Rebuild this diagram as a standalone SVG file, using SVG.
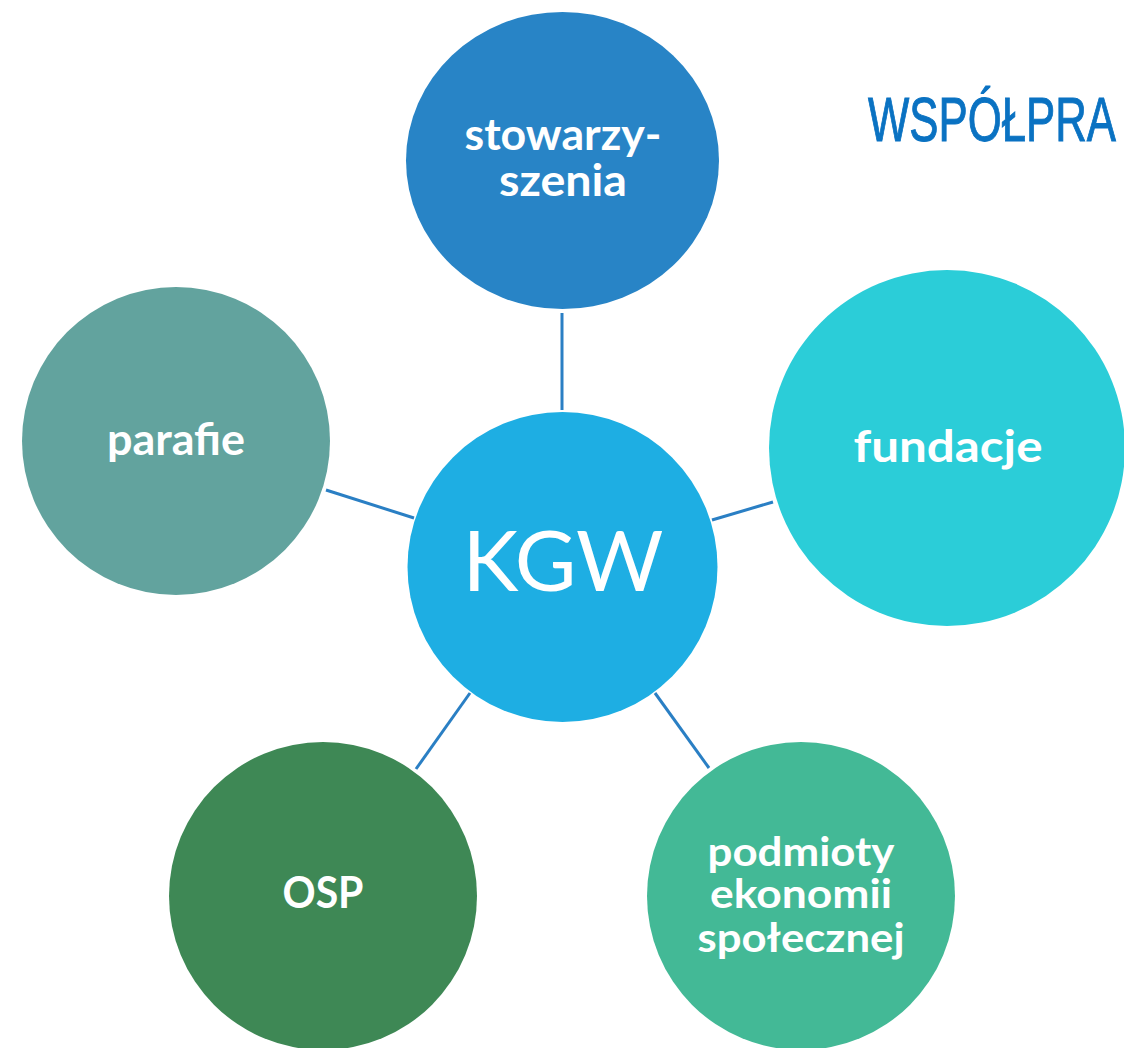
<svg xmlns="http://www.w3.org/2000/svg" width="1124" height="1048" viewBox="0 0 1124 1048">
<style>
.lbl{font-family:Lato,"Noto Sans","DejaVu Sans",sans-serif;font-weight:700;font-size:43px;fill:#ffffff;text-anchor:middle}
.sm{font-size:40px}
.kgw{font-family:Lato,"Noto Sans",sans-serif;font-weight:400;font-size:84px;fill:#ffffff;text-anchor:middle}
.title{font-family:"Liberation Sans",Arial,sans-serif;font-size:63px;fill:#0a72c2;stroke:#0a72c2;stroke-width:1}
.conn line{stroke:#2a7fc4;stroke-width:3}
</style>
<rect width="1124" height="1048" fill="#ffffff"/>
<text class="title" x="868" y="141" textLength="248" lengthAdjust="spacingAndGlyphs">WSPÓŁPRA</text>
<g id="connectors" class="conn">
<line x1="562" y1="313" x2="562" y2="410"/>
<line x1="326" y1="490" x2="414" y2="518"/>
<line x1="712" y1="520" x2="773" y2="502"/>
<line x1="416" y1="769" x2="470" y2="693"/>
<line x1="655" y1="693" x2="709" y2="768"/>
</g>
<g id="stowarzyszenia">
<ellipse cx="562.5" cy="160.5" rx="156.5" ry="148.5" fill="#2884c6"/>
<text class="lbl" x="563" y="150" textLength="197" lengthAdjust="spacingAndGlyphs">stowarzy-</text>
<text class="lbl" x="563" y="196" textLength="128" lengthAdjust="spacingAndGlyphs">szenia</text>
</g>
<g id="parafie">
<circle cx="176" cy="441" r="154" fill="#62a39e"/>
<text class="lbl" x="176" y="455" textLength="138" lengthAdjust="spacingAndGlyphs">parafie</text>
</g>
<g id="fundacje">
<circle cx="947" cy="448" r="178" fill="#2bcdd8"/>
<text class="lbl" x="948" y="462" textLength="189" lengthAdjust="spacingAndGlyphs">fundacje</text>
</g>
<g id="kgw">
<circle cx="562.5" cy="567" r="155" fill="#1eaee3"/>
<text class="kgw" x="563" y="591" textLength="201" lengthAdjust="spacingAndGlyphs">KGW</text>
</g>
<g id="osp">
<circle cx="323" cy="896" r="154" fill="#3e8855"/>
<text class="lbl" x="323" y="908" textLength="81" lengthAdjust="spacingAndGlyphs">OSP</text>
</g>
<g id="podmioty">
<circle cx="801" cy="896" r="154" fill="#43b996"/>
<text class="lbl sm" x="801" y="866" textLength="187" lengthAdjust="spacingAndGlyphs">podmioty</text>
<text class="lbl sm" x="801" y="908" textLength="182" lengthAdjust="spacingAndGlyphs">ekonomii</text>
<text class="lbl sm" x="801" y="952" textLength="207" lengthAdjust="spacingAndGlyphs">społecznej</text>
</g>
</svg>
